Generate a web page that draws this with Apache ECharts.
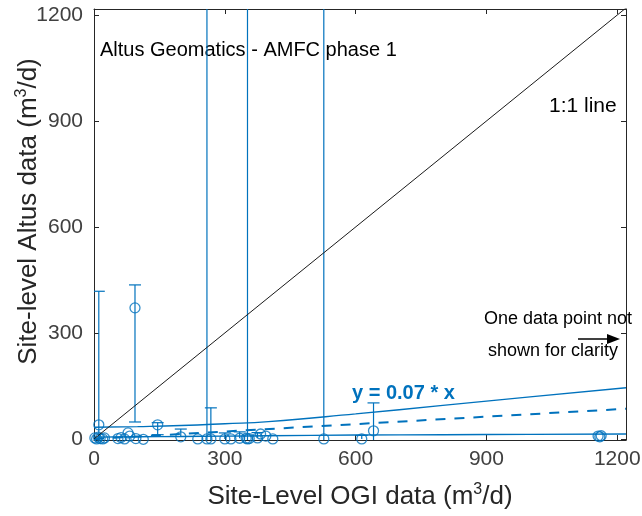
<!DOCTYPE html>
<html>
<head>
<meta charset="utf-8">
<script src="https://cdn.jsdelivr.net/npm/echarts@6/dist/echarts.min.js"></script>
<style>
  html, body { margin: 0; padding: 0; background: #fff; }
  #chart { width: 642px; height: 516px; }
</style>
</head>
<body>
<div id="chart"></div>
<script>
// Site-level comparison: OGI survey estimates vs. Altus aerial estimates (m3/d)
const ogiX     = [2, 6, 10, 14, 20, 24, 11, 55, 62, 70, 78, 82, 94, 96, 113, 146, 199, 238, 259, 268, 300, 314, 334, 349, 352, 356, 375, 382, 394, 410, 527, 614, 641, 1156, 1160, 1163];
const altusY   = [3, 0, 5, 1, 0, 3, 40, 1, 4, 0, 17, 8, 371, 1, -1, 40, 6, 0, 0, 0, 0, 0, 2, 2, 0, 1, 3, 14, 8, 0, 0, 0, 23, 8, 6, 9];
// Error-bar limits (null = no bar); very large highs run off the top of the plot
const errLow   = [null, null, null, null, null, null, -10, null, null, null, null, null, 48, null, null, 12, null, null, -10, -10, null, null, null, null, -10, null, null, null, null, null, -10, null, -10, null, null, null];
const errHigh  = [null, null, null, null, null, null, 418, null, null, null, null, null, 436, null, null, 46, 28, null, 5000, 88, 17, null, 20, null, 5000, null, 18, null, null, null, 5000, 10, 102, null, null, null];

// Regression y = 0.07 * x with its confidence band
const fitSlope = 0.07;
const fitX     = [0, 1220];
const bandX    = [0, 100, 200, 300, 400, 600, 800, 1000, 1220];
const bandUp   = [33, 35, 38, 43, 49, 71, 95, 119, 145];
const bandLow  = [5, 6, 7, 8, 9, 11, 12, 13, 14];

// Axis setup
const xMin = 0, xMax = 1220;
const yMin = -3, yMax = 1217;
const xTicks = [0, 300, 600, 900, 1200];
const yTicks = [0, 300, 600, 900, 1200];
const oneToOne = [0, 1220];

const BLUE = '#0072BD';
const FRAME = '#262626';
const FONT = '"Liberation Sans", Arial, Helvetica, sans-serif';

const points = ogiX.map((x, i) => [x, altusY[i]]);
const bars = ogiX.map((x, i) => [x, altusY[i], errLow[i] == null ? altusY[i] : errLow[i], errHigh[i] == null ? altusY[i] : errHigh[i]])
  .filter((d, i) => errLow[i] != null || errHigh[i] != null);
const fitLine = fitX.map(x => [x, fitSlope * x]);
const upLine = bandX.map((x, i) => [x, bandUp[i]]);
const lowLine = bandX.map((x, i) => [x, bandLow[i]]);
const diag = oneToOne.map(v => [v, v]);

function errorBar(params, api) {
  const x = api.value(0), y = api.value(1), lo = api.value(2), hi = api.value(3);
  const cap = 6;
  const children = [];
  const style = { stroke: BLUE, lineWidth: 1.2, fill: null };
  const hiC = Math.min(hi, yMax), loC = Math.max(lo, yMin);
  const pTop = api.coord([x, hiC]);
  const pBot = api.coord([x, loC]);
  children.push({ type: 'line', shape: { x1: pTop[0], y1: pTop[1], x2: pBot[0], y2: pBot[1] }, style });
  if (hi > y && hi <= yMax) {
    children.push({ type: 'line', shape: { x1: pTop[0] - cap, y1: pTop[1], x2: pTop[0] + cap, y2: pTop[1] }, style });
  }
  if (lo < y && lo >= yMin) {
    children.push({ type: 'line', shape: { x1: pBot[0] - cap, y1: pBot[1], x2: pBot[0] + cap, y2: pBot[1] }, style });
  }
  return { type: 'group', children };
}

const axisCommon = {
  type: 'value',
  splitLine: { show: false },
  axisLine: { show: true, onZero: false, lineStyle: { color: FRAME, width: 1 } },
};

// superscript style for the unit labels
const supStyle = { fontSize: 16, lineHeight: 16, padding: [0, 0, 14, 0], verticalAlign: 'middle', fontFamily: FONT, color: FRAME };

const chart = echarts.init(document.getElementById('chart'), null, { renderer: 'canvas' });
chart.setOption({
  animation: false,
  backgroundColor: '#fff',
  grid: { left: 94, right: 16, top: 9, bottom: 76, containLabel: false, outerBoundsMode: 'none' },
  xAxis: [
    Object.assign({}, axisCommon, {
      min: xMin, max: xMax, position: 'bottom',
      axisTick: { show: true, inside: true, length: 5, customValues: xTicks, lineStyle: { color: FRAME } },
      axisLabel: { show: true, customValues: xTicks, margin: 9, fontSize: 21, color: '#404040', fontFamily: FONT, formatter: v => String(v) },
      name: 'Site-Level OGI data (m{sup|3}/d)',
      nameLocation: 'middle', nameGap: 44, nameMoveOverlap: false,
      nameTextStyle: { fontSize: 26, color: FRAME, fontFamily: FONT, rich: { sup: supStyle } }
    }),
    Object.assign({}, axisCommon, {
      min: xMin, max: xMax, position: 'top',
      axisTick: { show: true, inside: true, length: 5, customValues: xTicks, lineStyle: { color: FRAME } },
      axisLabel: { show: false }
    })
  ],
  yAxis: [
    Object.assign({}, axisCommon, {
      min: yMin, max: yMax, position: 'left',
      axisTick: { show: true, inside: true, length: 5, customValues: yTicks, lineStyle: { color: FRAME } },
      axisLabel: { show: true, customValues: yTicks, margin: 11, fontSize: 21, color: '#404040', fontFamily: FONT, formatter: v => String(v) },
      name: 'Site-level Altus data (m{sup|3}/d)',
      nameLocation: 'middle', nameGap: 52, nameRotate: 90, nameMoveOverlap: false,
      nameTextStyle: { fontSize: 26, color: FRAME, fontFamily: FONT, padding: [0, 0, 0, 26], rich: { sup: supStyle } }
    }),
    Object.assign({}, axisCommon, {
      min: yMin, max: yMax, position: 'right',
      axisTick: { show: true, inside: true, length: 5, customValues: yTicks, lineStyle: { color: FRAME } },
      axisLabel: { show: false }
    })
  ],
  series: [
    {
      type: 'custom', name: 'error', renderItem: errorBar, data: bars, clip: true,
      encode: { x: 0, y: 1 }, z: 2
    },
    {
      type: 'scatter', name: 'sites', data: points, symbol: 'circle', symbolSize: 10,
      itemStyle: { color: 'rgba(0,0,0,0)', borderColor: BLUE, borderWidth: 1.3 }, z: 3
    },
    {
      type: 'line', name: 'upper', data: upLine, showSymbol: false, smooth: true,
      lineStyle: { color: BLUE, width: 1.4 }, z: 3
    },
    {
      type: 'line', name: 'lower', data: lowLine, showSymbol: false, smooth: true,
      lineStyle: { color: BLUE, width: 1.4 }, z: 3
    },
    {
      type: 'line', name: 'fit', data: fitLine, showSymbol: false,
      lineStyle: { color: BLUE, width: 2, type: [10, 9] }, z: 3
    },
    {
      type: 'line', name: '1:1', data: diag, showSymbol: false, clip: true,
      lineStyle: { color: '#1a1a1a', width: 1 }, z: 4
    }
  ],
  graphic: [
    { type: 'text', left: 100, top: 40, style: { text: 'Altus Geomatics - AMFC phase 1', font: '20px ' + FONT, fill: '#000' } },
    { type: 'text', left: 549, top: 96, style: { text: '1:1 line', font: '21px ' + FONT, fill: '#000' } },
    { type: 'text', left: 484, top: 310, style: { text: 'One data point not', font: '18px ' + FONT, fill: '#000' } },
    { type: 'text', left: 488, top: 342, style: { text: 'shown for clarity', font: '18px ' + FONT, fill: '#000' } },
    { type: 'line', shape: { x1: 578, y1: 339, x2: 612, y2: 339 }, style: { stroke: '#000', lineWidth: 1.3 } },
    { type: 'polygon', shape: { points: [[620, 339], [607, 334], [607, 344]] }, style: { fill: '#000' } },
    { type: 'text', left: 352, top: 383, style: { text: 'y = 0.07 * x', font: 'bold 20px ' + FONT, fill: BLUE } }
  ]
});
</script>
</body>
</html>
